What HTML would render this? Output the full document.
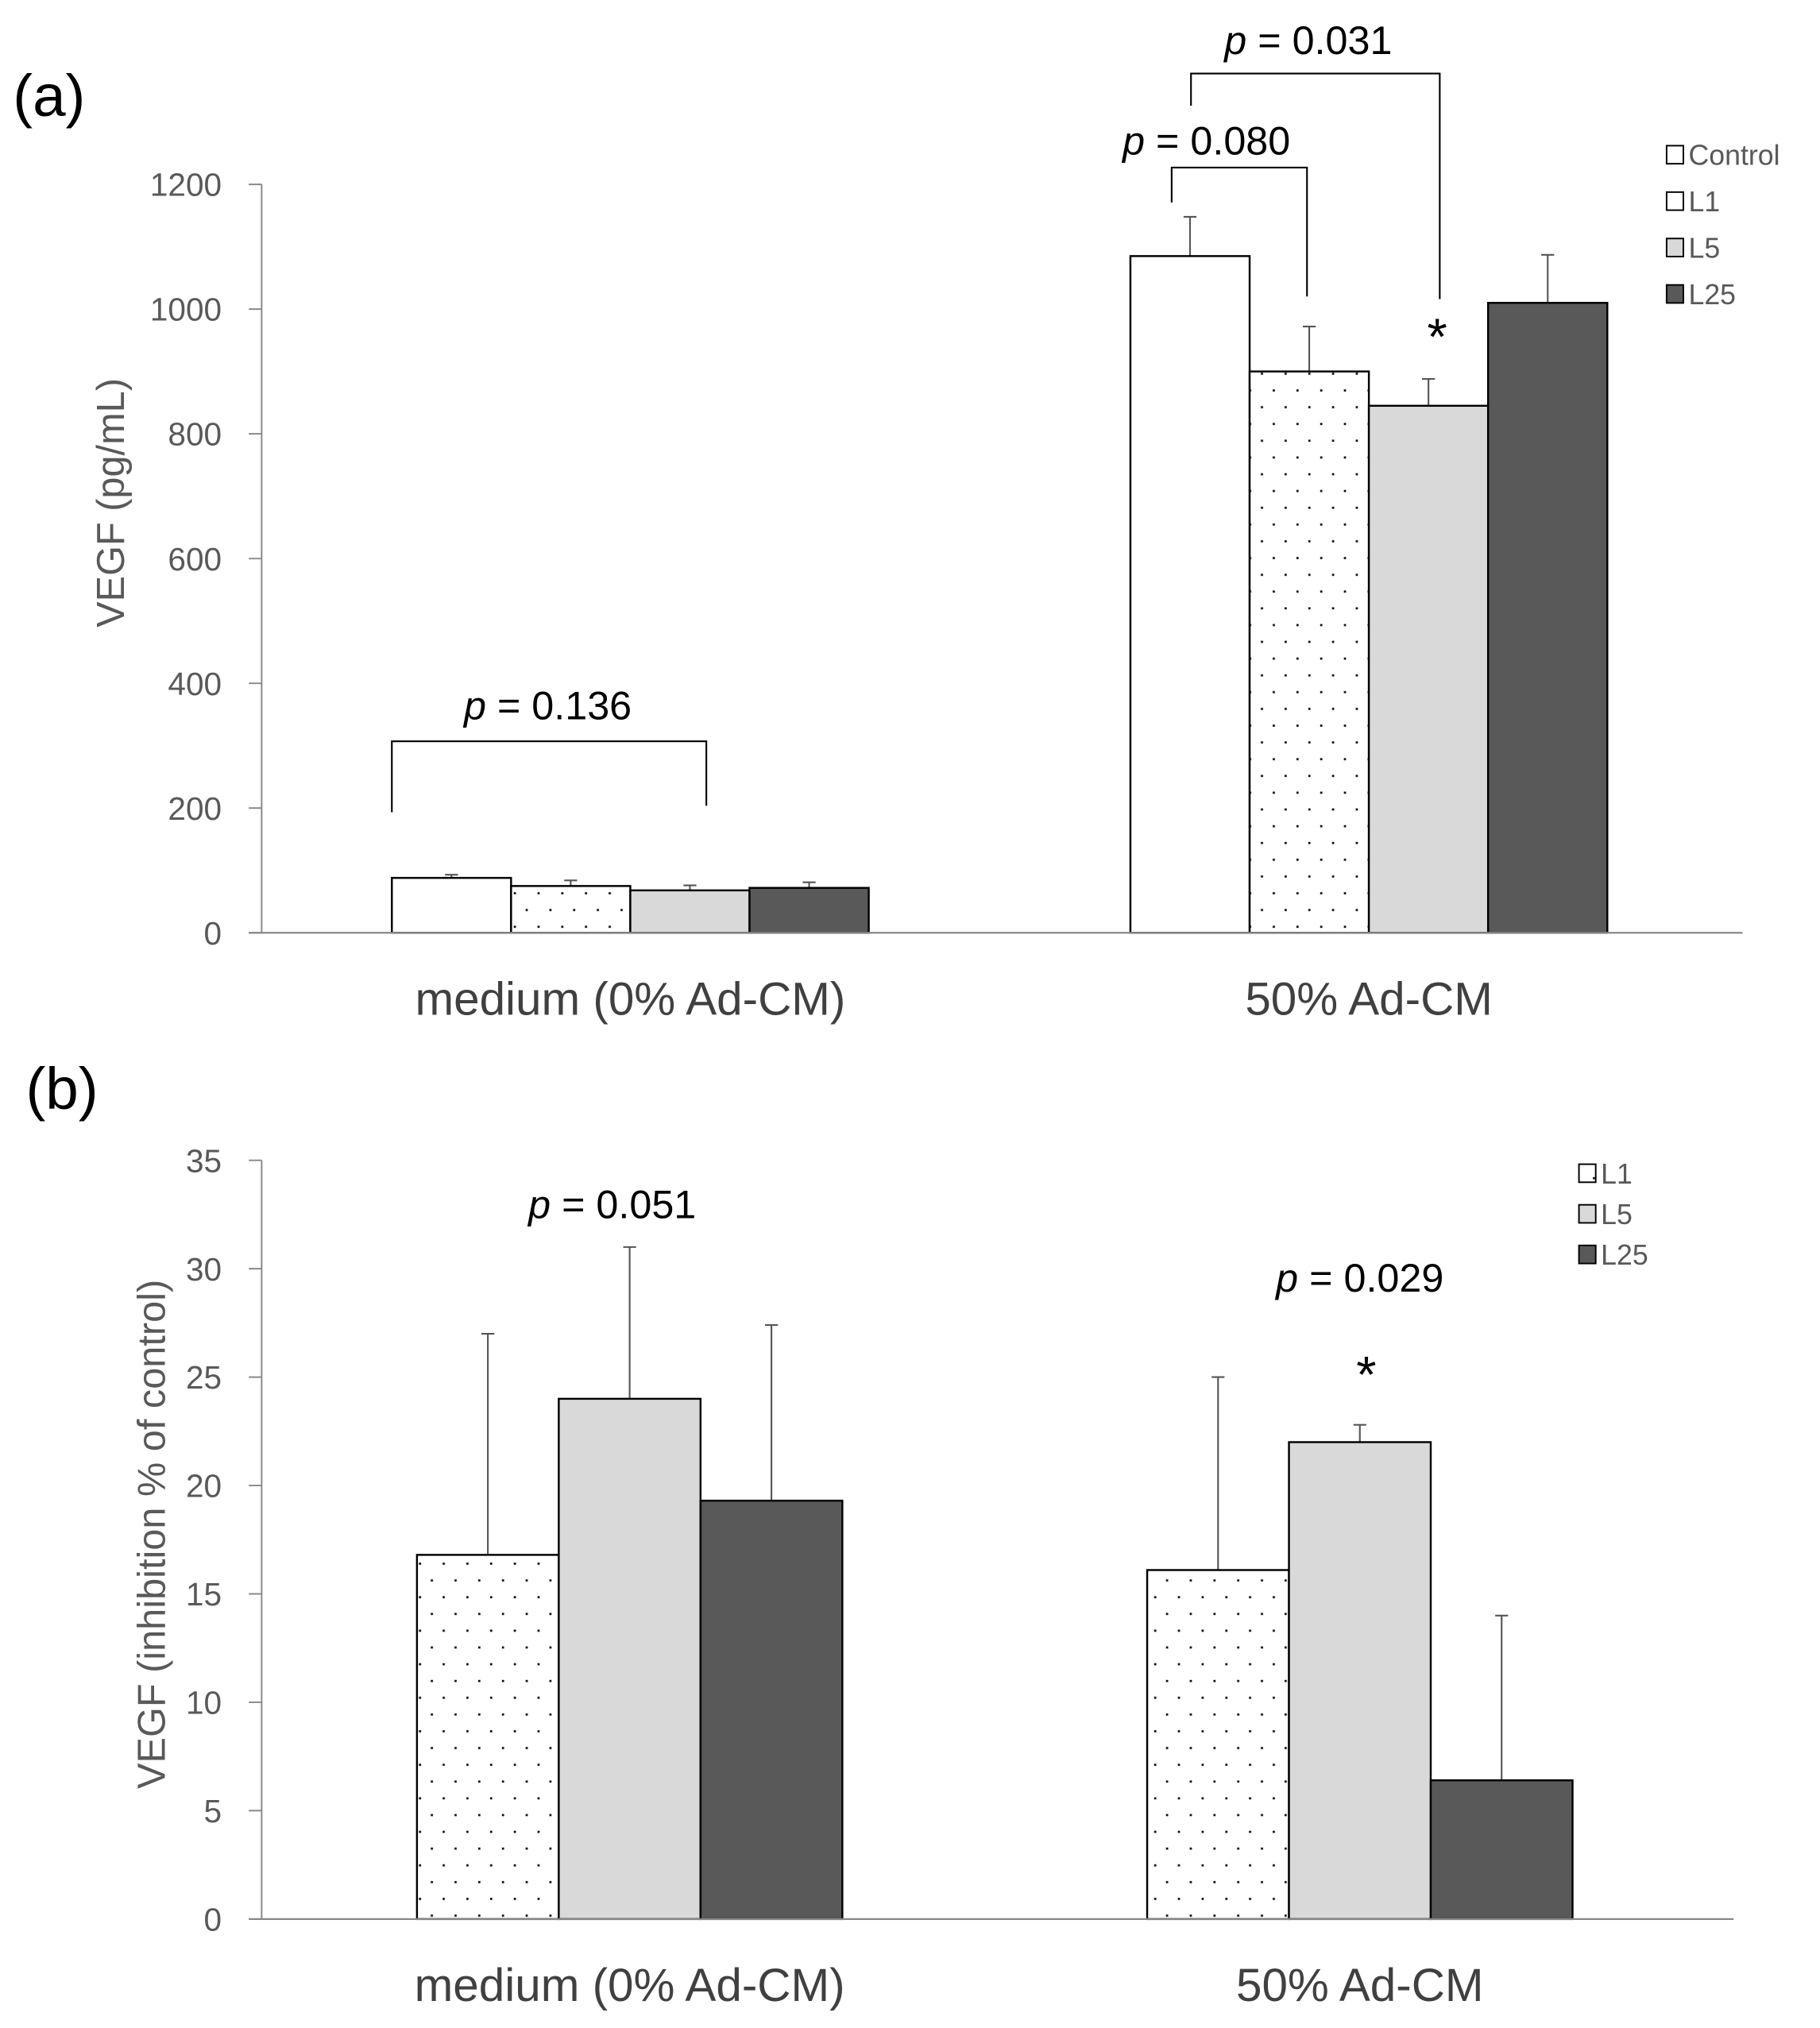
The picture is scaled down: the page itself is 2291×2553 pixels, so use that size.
<!DOCTYPE html>
<html><head><meta charset="utf-8"><style>
html,body{margin:0;padding:0;background:#fff;}
svg{display:block;}
text{font-family:"Liberation Sans Narrow","Liberation Sans",sans-serif;}
</style></head><body>
<svg id="chart" width="2291" height="2553" viewBox="0 0 1412 1573" preserveAspectRatio="none" xmlns="http://www.w3.org/2000/svg">
<defs>
<pattern id="dots" width="18.4" height="26" patternUnits="userSpaceOnUse">
<rect width="18.4" height="26" fill="#fff"/><rect x="3" y="3" width="1.7" height="1.7" fill="#111"/><rect x="12.2" y="16" width="1.7" height="1.7" fill="#111"/>
</pattern>
</defs>
<g id="root"></g>
</svg>
<script>
const NS='http://www.w3.org/2000/svg';
const root=document.getElementById('root');
// Panel A data
const aCategories=['medium (0% Ad-CM)','50% Ad-CM'];
const aSeries=['Control','L1','L5','L25'];
const aValues=[[88,75,68,72],[1085,900,845,1010]];
const aErrors=[[93,84,76,81],[1148,972,888,1087]];
const aTicks=[0,200,400,600,800,1000,1200];
// Panel B data
const bCategories=['medium (0% Ad-CM)','50% Ad-CM'];
const bSeries=['L1','L5','L25'];
const bValues=[[16.8,24,19.3],[16.1,22,6.4]];
const bErrors=[[27,31,27.4],[25,22.8,14]];
const bTicks=[0,5,10,15,20,25,30,35];

const fills={Control:'#fff',L1:'url(#dots)',L5:'#d9d9d9',L25:'#595959'};

function el(tag,attrs,parent){const e=document.createElementNS(NS,tag);for(const k in attrs)e.setAttribute(k,attrs[k]);(parent||root).appendChild(e);return e;}
function txt(s,attrs,parent){const e=el('text',attrs,parent);e.textContent=s;return e;}

// ---------- Panel A ----------
const ya=v=>723.5-(v/1200)*580.5;
const aGroupStart=[304,877], aBarW=92.5;
const ga=el('g',{});


const la=txt('(a)',{x:10,y:90,'font-size':46,fill:'#000'},ga);


aTicks.forEach(t=>{
  const tl=txt(String(t),{x:172,y:ya(t)+9,'font-size':25,fill:'#595959','text-anchor':'end'},ga);
  
  
  el('line',{x1:193,x2:203,y1:ya(t),y2:ya(t),stroke:'#888','stroke-width':1.2},ga);
});
const ax=el('line',{x1:203,x2:203,y1:ya(1200),y2:ya(0),stroke:'#888','stroke-width':1.2},ga);


aValues.forEach((grp,gi)=>{
  grp.forEach((v,si)=>{
    const x=aGroupStart[gi]+si*aBarW;
    const cx=x+aBarW/2;
    const eb=el('line',{x1:cx,x2:cx,y1:ya(aErrors[gi][si]),y2:ya(v),stroke:'#555','stroke-width':1.3},ga);
    
    
    el('line',{x1:cx-5,x2:cx+5,y1:ya(aErrors[gi][si]),y2:ya(aErrors[gi][si]),stroke:'#555','stroke-width':1.3},ga);
    const r=el('rect',{x:x,y:ya(v),width:aBarW,height:ya(0)-ya(v),fill:fills[aSeries[si]],stroke:'#000','stroke-width':1.5},ga);
    
    
  });
  const cl=txt(aCategories[gi],{x:aGroupStart[gi]+aBarW*2,y:787,'font-size':36,fill:'#404040','text-anchor':'middle'},ga);
  
  
});
const xa=el('line',{x1:193,x2:1352,y1:ya(0),y2:ya(0),stroke:'#888','stroke-width':1.4},ga);


const yta=txt('VEGF  (pg/mL)',{x:0,y:0,'font-size':30,fill:'#595959','text-anchor':'middle',transform:'translate(96,390) rotate(-90)'},ga);


function bracket(g,x1,x2,yt,yl,yr,label,tx,ty,name){
  const p=el('path',{d:`M${x1},${yl}V${yt}H${x2}V${yr}`,fill:'none',stroke:'#000','stroke-width':1.3},g);
  
  
  const t=el('text',{x:tx,y:ty,'font-size':31,fill:'#000','text-anchor':'middle'},g);
  t.innerHTML='<tspan font-style="italic">p</tspan> = '+label;
  
  
}
bracket(ga,304,548,575,630,625,'0.136',425,558,'p-0136');
bracket(ga,909,1014,130,157,230,'0.080',936,120,'p-0080');
bracket(ga,924,1117,57,82,232,'0.031',1015,42,'p-0031');
const sa=txt('*',{x:1115,y:275,'font-size':40,fill:'#000','text-anchor':'middle'},ga);


aSeries.forEach((s,i)=>{
  const y=120+i*36;
  const lb=el('rect',{x:1293,y:y-7,width:13,height:14,fill:fills[s],stroke:'#000','stroke-width':1.2},ga);
  
  
  const lt=txt(s,{x:1310,y:y+8,'font-size':22,fill:'#595959'},ga);
  
  
});

// ---------- Panel B ----------
const yb=v=>1488.5-(v/35)*588.5;
const bGroupStart=[323.5,890], bBarW=110;
const gb=el('g',{});


const lbb=txt('(b)',{x:20,y:860,'font-size':46,fill:'#000'},gb);


bTicks.forEach(t=>{
  const tl=txt(String(t),{x:172,y:yb(t)+9,'font-size':25,fill:'#595959','text-anchor':'end'},gb);
  
  
  el('line',{x1:193,x2:203,y1:yb(t),y2:yb(t),stroke:'#888','stroke-width':1.2},gb);
});
const bx=el('line',{x1:203,x2:203,y1:yb(35),y2:yb(0),stroke:'#888','stroke-width':1.2},gb);


bValues.forEach((grp,gi)=>{
  grp.forEach((v,si)=>{
    const x=bGroupStart[gi]+si*bBarW;
    const cx=x+bBarW/2;
    const eb=el('line',{x1:cx,x2:cx,y1:yb(bErrors[gi][si]),y2:yb(v),stroke:'#555','stroke-width':1.3},gb);
    
    
    el('line',{x1:cx-5,x2:cx+5,y1:yb(bErrors[gi][si]),y2:yb(bErrors[gi][si]),stroke:'#555','stroke-width':1.3},gb);
    const r=el('rect',{x:x,y:yb(v),width:bBarW,height:yb(0)-yb(v),fill:fills[bSeries[si]],stroke:'#000','stroke-width':1.5},gb);
    
    
  });
  const cl=txt(bCategories[gi],{x:bGroupStart[gi]+bBarW*1.5,y:1552,'font-size':36,fill:'#404040','text-anchor':'middle'},gb);
  
  
});
const bxa=el('line',{x1:193,x2:1345,y1:yb(0),y2:yb(0),stroke:'#888','stroke-width':1.4},gb);


const ytb=txt('VEGF (inhibition % of control)',{x:0,y:0,'font-size':30,fill:'#595959','text-anchor':'middle',transform:'translate(128,1190) rotate(-90)'},gb);


function plabel(g,label,x,y,name){
  const t=el('text',{x:x,y:y,'font-size':31,fill:'#000','text-anchor':'middle'},g);
  t.innerHTML='<tspan font-style="italic">p</tspan> = '+label;
  
  
}
plabel(gb,'0.051',475,945,'p-0051-label');
plabel(gb,'0.029',1055,1002,'p-0029-label');
const sb=txt('*',{x:1060,y:1080,'font-size':40,fill:'#000','text-anchor':'middle'},gb);


bSeries.forEach((s,i)=>{
  const y=910+i*31.5;
  const lb=el('rect',{x:1225,y:y-7,width:13,height:14,fill:fills[s],stroke:'#000','stroke-width':1.2},gb);
  
  
  const lt=txt(s,{x:1242,y:y+8,'font-size':22,fill:'#595959'},gb);
  
  
});
</script>
</body></html>
